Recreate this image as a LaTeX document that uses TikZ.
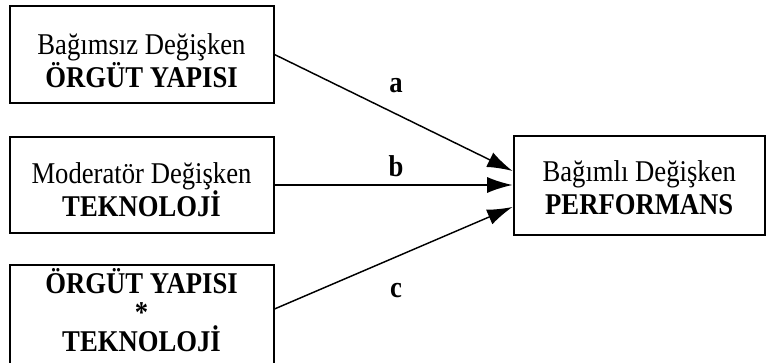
\documentclass[tikz,border=0pt]{standalone}
\usepackage{fontspec}
\setmainfont{Liberation Serif}[FakeStretch=0.885]
\usetikzlibrary{arrows.meta}

\tikzset{
  kutu/.style={draw, line width=1.5pt, minimum width=198pt, minimum height=72.75pt,
    inner sep=0pt, align=center, font=\fontsize{22.6}{24.5}\selectfont},
  ok/.style={-{Latex[length=19pt,width=12pt]}, line width=1.1pt},
  harf/.style={anchor=base, font=\fontsize{22.6}{24.5}\selectfont\bfseries},
}

\begin{document}
\begin{tikzpicture}[x=0.75pt, y=-0.75pt]
    \useasboundingbox (0,0) rectangle (767,363);

    % Draw the boxes
    \node[kutu] (bagimsiz) at (141.5,54.5)
        {\rule{0pt}{24.75pt}Bağımsız Değişken\\\textbf{ÖRGÜT YAPISI}};
    \node[kutu, minimum height=72pt] (moderator) at (141.5,185)
        {\rule{0pt}{22.5pt}Moderatör Değişken\\\textbf{TEKNOLOJİ}};
    \node[kutu, minimum height=75pt] (etkilesim) at (141.5,315)
        {\textbf{ÖRGÜT YAPISI}\\[-2.75pt]\textbf{*}\\[-2.75pt]\textbf{TEKNOLOJİ}\rule[-8.25pt]{0pt}{0pt}};
    \node[kutu, minimum width=188.6pt, minimum height=74.25pt] (bagimli) at (639.25,185.5)
        {\rule{0pt}{18.75pt}Bağımlı Değişken\\\textbf{PERFORMANS}};

    % Draw the arrows
    \draw[ok] (bagimsiz.east) -- ([yshift=10.9pt]bagimli.west);
    \draw[ok] (moderator.east) -- (moderator.east -| bagimli.west);
    \draw[ok] ([yshift=-33.75pt]etkilesim.north east) -- ([yshift=-16.1pt]bagimli.west);

    % Labels on the arrows
    \node[harf] (etiketa) at (396,93) {a};
    \node[harf] (etiketb) at (396,177) {b};
    \node[harf] (etiketc) at (396,297) {c};
\end{tikzpicture}
\end{document}
